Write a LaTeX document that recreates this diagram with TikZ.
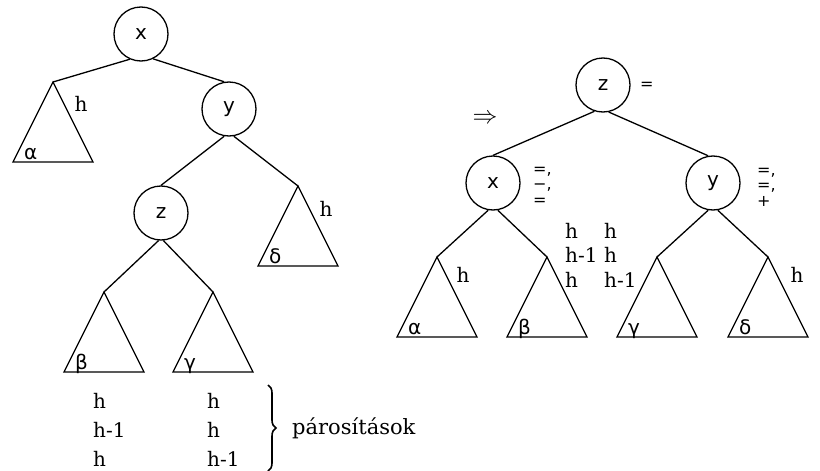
\documentclass[tikz,border=0pt]{standalone}
\usepackage{fontspec}
\setmainfont{DejaVu Serif}
\newfontfamily\keyfont{DejaVu Sans}
\usetikzlibrary{decorations.pathreplacing,calc}

\begin{document}
\begin{tikzpicture}[
 x=1pt, y=-1pt,
 keynode/.style={circle, draw, line width=1.3pt, minimum size=54pt, inner sep=0pt, font=\keyfont\fontsize{20}{24}\selectfont},
 edge/.style={line width=1.3pt},
 htext/.style={inner sep=0pt, font=\fontsize{20}{24}\selectfont},
 pairs/.style={inner sep=0pt, anchor=west, align=left},
 greek/.style={inner sep=0pt, anchor=base west, font=\keyfont\fontsize{20}{24}\selectfont},
 bal/.style={inner sep=0pt, anchor=west, align=left, font=\keyfont\fontsize{16}{15.5}\selectfont},
 pics/subtree/.style={code={
   \draw[edge] (0,0) -- (-40,80) -- (40,80) -- cycle;
   \node[greek] at (-29,77) {#1};
 }}
]
\useasboundingbox (0,0) rectangle (820,471);

% Left tree: nodes
\node[keynode] (lx) at (141,34) {x};
\node[keynode] (ly) at (229,109) {y};
\node[keynode] (lz) at (161,213) {z};

% Left tree: subtrees
\coordinate (la) at (53,82);
\coordinate (ld) at (298,186);
\coordinate (lb) at (104,292);
\coordinate (lc) at (213,292);
\pic at (la) {subtree=α};
\pic at (ld) {subtree=δ};
\pic at (lb) {subtree=β};
\pic at (lc) {subtree=γ};

% Left tree: edges
\draw[edge] (lx.-114) -- (la);
\draw[edge] (lx.-64) -- (ly.100);
\draw[edge] (ly.-100) -- (lz.north);
\draw[edge] (ly.-80) -- (ld);
\draw[edge] (lz.-95) -- (lb);
\draw[edge] (lz.-85) -- (lc);

% Left tree: heights
\node[htext] (lha) at (81,104) {h};
\node[htext] (lhd) at (326,209) {h};

% Pairings
\node[pairs, font=\fontsize{20}{29}\selectfont] (pairb) at (93,430) {h\\h-1\\h};
\node[pairs, font=\fontsize{20}{29}\selectfont] (pairc) at (207,430) {h\\h\\h-1};
\coordinate (btop) at (268,385);
\coordinate (bbot) at (268,471);
\draw[decorate, decoration={brace, amplitude=8pt}, line width=1.6pt] (btop) -- (bbot);
\node[pairs, font=\fontsize{21}{24}\selectfont] (pairlabel) at (292,428) {párosítások};

% Arrow
\node (impl) at (485,119) {\fontsize{30}{30}\selectfont$\Rightarrow$};

% Right tree: nodes
\node[keynode] (rz) at (603,85) {z};
\node[keynode] (rx) at (493,183) {x};
\node[keynode] (ry) at (713,183) {y};

% Right tree: subtrees
\coordinate (ra) at (437,257);
\coordinate (rb) at (547,257);
\coordinate (rc) at (657,257);
\coordinate (rd) at (768,257);
\pic at (ra) {subtree=α};
\pic at (rb) {subtree=β};
\pic at (rc) {subtree=γ};
\pic at (rd) {subtree=δ};

% Right tree: edges
\draw[edge] (rz.-108) -- (rx.north);
\draw[edge] (rz.-78) -- (ry.100);
\draw[edge] (rx.-100) -- (ra);
\draw[edge] (rx.-80) -- (rb);
\draw[edge] (ry.-100) -- (rc);
\draw[edge] (ry.-80) -- (rd);

% Right tree: balances
\node[bal] (zbal) at (640,86) {=};
\node[bal] (xbal) at (533,186) {=,\\−,\\=};
\node[bal] (ybal) at (757,187) {=,\\=,\\+};

% Right tree: heights
\node[htext] (rha) at (463,275) {h};
\node[htext] (rhd) at (797,275) {h};
\node[pairs, font=\fontsize{20}{24.5}\selectfont] (pairm1) at (565,255) {h\\h-1\\h};
\node[pairs, font=\fontsize{20}{24.5}\selectfont] (pairm2) at (604,255) {h\\h\\h-1};

\end{tikzpicture}
\end{document}
